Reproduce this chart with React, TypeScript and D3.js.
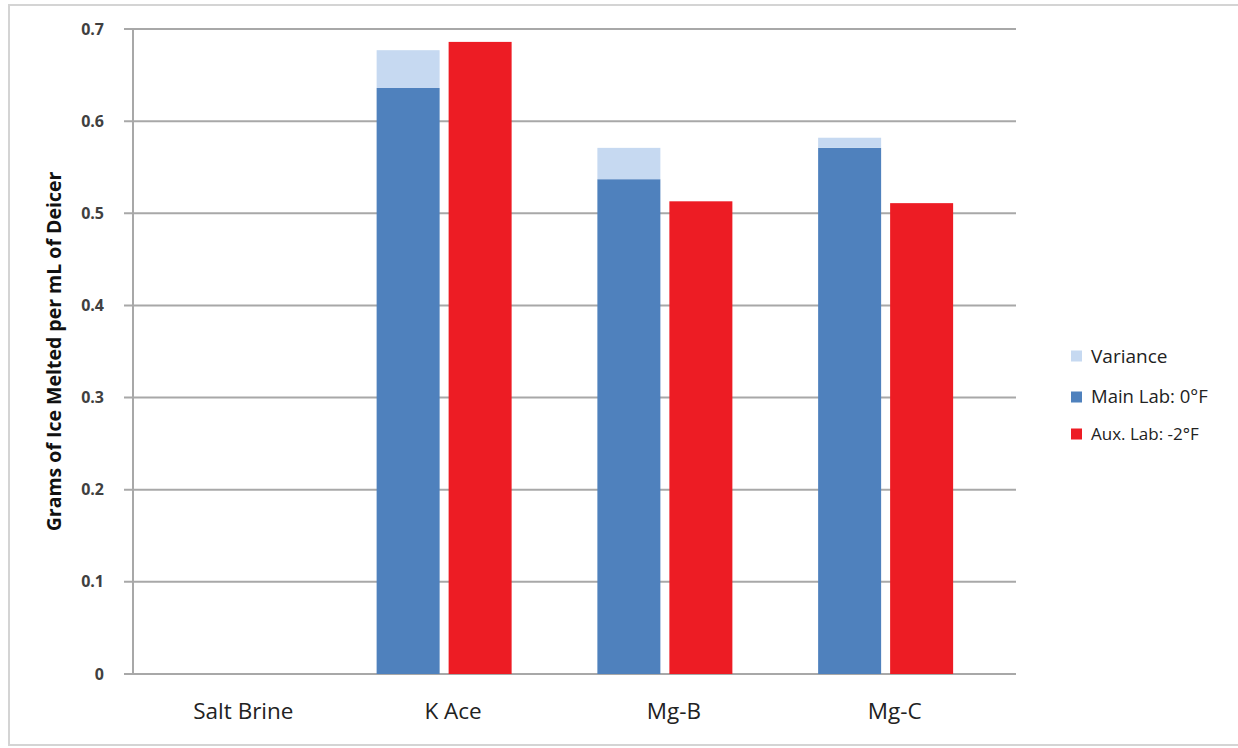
import React from "react";
import * as d3 from "d3";

const categories = ["Salt Brine", "K Ace", "Mg-B", "Mg-C"];
const mainLab = [0, 0.636, 0.537, 0.571];
const variance = [0, 0.041, 0.034, 0.011];
const auxLab = [0, 0.686, 0.513, 0.511];
const yTicks = [0, 0.1, 0.2, 0.3, 0.4, 0.5, 0.6, 0.7];
const legendItems = [
  { label: "Variance", color: "#c6d9f1", size: 19 },
  { label: "Main Lab: 0°F", color: "#4f81bd", size: 18.5 },
  { label: "Aux. Lab: -2°F", color: "#ed1c24", size: 17 },
];

const W = 1238;
const H = 748;
const plot = { left: 133, right: 1016, top: 29, bottom: 674 };
const FONT = "'Open Sans', 'Liberation Sans', sans-serif";

export default function App() {
  const x = d3.scaleBand<string>().domain(categories).range([plot.left, plot.right]);
  const y = d3.scaleLinear().domain([0, 0.7]).range([plot.bottom, plot.top]);
  const barW = 63;
  const gap = 9;
  const shift = -20;
  const labelShift = -11;
  const legendY = [356, 397, 434];

  return (
    <svg
      width={W}
      height={H}
      style={{ position: "absolute", left: 0, top: 0, background: "#fff" }}
      fontFamily={FONT}
    >
      <rect x={9} y={5} width={1240} height={740} fill="#fff" stroke="#d4d4d4" strokeWidth={2} />
      {yTicks.map((t) => (
        <g key={t}>
          <line x1={plot.left - 9} x2={plot.right} y1={y(t)} y2={y(t)} stroke="#a8a8a8" strokeWidth={2} />
          <text
            x={104}
            y={y(t)}
            dy="0.35em"
            textAnchor="end"
            fontSize={16}
            fontWeight={700}
            fill="#404040"
          >
            {t === 0 ? "0" : t.toFixed(1)}
          </text>
        </g>
      ))}
      <line x1={plot.left} x2={plot.left} y1={plot.top} y2={plot.bottom} stroke="#a8a8a8" strokeWidth={2} />
      {categories.map((c, i) => {
        const center = (x(c) as number) + x.bandwidth() / 2;
        const cx = center + shift;
        const bx = cx - gap / 2 - barW;
        const rx = cx + gap / 2;
        const labelX = mainLab[i] === 0 && auxLab[i] === 0 ? center : center + labelShift;
        return (
          <g key={c}>
            {mainLab[i] > 0 && (
              <rect x={bx} width={barW} y={y(mainLab[i])} height={y(0) - y(mainLab[i])} fill="#4f81bd" />
            )}
            {variance[i] > 0 && (
              <rect
                x={bx}
                width={barW}
                y={y(mainLab[i] + variance[i])}
                height={y(mainLab[i]) - y(mainLab[i] + variance[i])}
                fill="#c6d9f1"
              />
            )}
            {auxLab[i] > 0 && (
              <rect x={rx} width={barW} y={y(auxLab[i])} height={y(0) - y(auxLab[i])} fill="#ed1c24" />
            )}
            <text x={labelX} y={719} textAnchor="middle" fontSize={22.5} fill="#222">
              {c}
            </text>
          </g>
        );
      })}
      <text
        transform={`translate(61, ${(plot.top + plot.bottom) / 2}) rotate(-90)`}
        textAnchor="middle"
        fontSize={19.5}
        fontWeight={700}
        fill="#111"
      >
        Grams of Ice Melted per mL of Deicer
      </text>
      {legendItems.map((d, i) => (
        <g key={d.label} transform={`translate(1071, ${legendY[i]})`}>
          <rect x={0} y={-5.5} width={11} height={11} fill={d.color} />
          <text x={20} y={0} dy="0.35em" fontSize={d.size} fill="#222">
            {d.label}
          </text>
        </g>
      ))}
    </svg>
  );
}
